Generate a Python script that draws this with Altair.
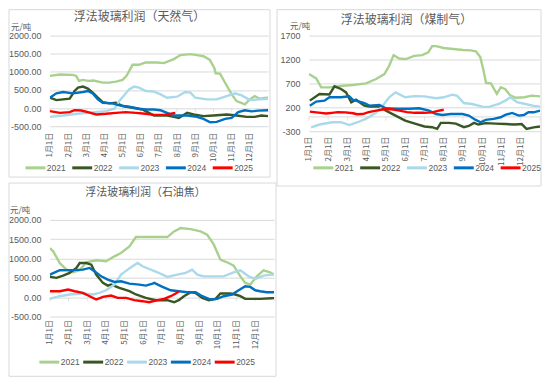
import altair as alt
import pandas as pd

YEARS = ["2021", "2022", "2023", "2024", "2025"]
COLORS = ["#A9D18E", "#385723", "#A9D9EA", "#0070C0", "#FF0000"]
MONTH_TICKS = list(range(12))
AXIS_TICKS = list(range(13))

# ---- 浮法玻璃利润（天然气）: (month offset from Jan 1, value) ----
ng_2021 = [(0, 889), (0.55, 926), (1.27, 917), (1.45, 889), (1.6, 750), (1.82, 778), (2.1, 750),
           (2.4, 760), (2.91, 704), (3.27, 704), (3.64, 731), (4.0, 778), (4.22, 889), (4.55, 1194),
           (4.91, 1194), (5.27, 1259), (5.91, 1259), (6.27, 1240), (6.82, 1352), (7.18, 1463),
           (7.73, 1490), (8.09, 1463), (8.45, 1430), (8.8, 1330), (9.05, 1100), (9.12, 960),
           (9.36, 950), (9.64, 700), (10.0, 380), (10.27, 194), (10.73, 102), (11.0, 240),
           (11.27, 333), (11.55, 260), (11.91, 287), (12, 280)]
ng_2022 = [(0, 287), (0.36, 222), (1.09, 259), (1.36, 472), (1.55, 565), (1.82, 593), (2.09, 537),
           (2.36, 426), (2.64, 287), (2.91, 167), (3.27, 130), (3.64, 148), (4.0, 56), (4.55, 9),
           (5.09, -37), (5.45, -130), (5.73, -204), (6.45, -204), (6.82, -240), (7.09, -270),
           (7.55, -130), (7.91, -176), (8.45, -222), (9.0, -204), (9.73, -176), (10.27, -204),
           (10.82, -240), (11.27, -240), (11.64, -204), (12, -222)]
ng_2023 = [(0, -240), (0.73, -204), (1.64, -148), (2.45, -111), (3.09, -83), (3.55, -18), (3.82, 194),
           (4.09, 352), (4.36, 518), (4.64, 593), (4.91, 565), (5.27, 472), (5.73, 454), (6.09, 380),
           (6.45, 287), (7.0, 315), (7.45, 444), (7.73, 426), (8.0, 287), (8.64, 241), (9.18, 241),
           (9.64, 315), (10.18, 407), (10.55, 352), (11.0, 222), (11.55, 241), (12, 260)]
ng_2024 = [(0, 287), (0.36, 407), (0.73, 444), (1.27, 407), (1.82, 444), (2.09, 472), (2.36, 407),
           (2.64, 241), (2.91, 148), (3.45, 130), (3.82, 74), (4.36, 37), (4.91, -18), (5.27, -37),
           (5.73, -40), (6.09, -60), (6.45, -130), (6.82, -204), (7.55, -204), (8.09, -240),
           (8.45, -296), (8.82, -389), (9.18, -380), (9.64, -296), (10.0, -268), (10.36, -111),
           (10.73, -60), (11.09, -90), (11.45, -70), (12, -60)]
ng_2025 = [(0, -83), (0.55, -130), (1.09, -111), (1.36, -55), (1.73, -65), (2.09, -111), (2.55, -176),
           (3.09, -157), (3.64, -130), (4.18, -111), (4.73, -130), (5.27, -157), (5.73, -185),
           (6.27, -185), (6.9, -130)]

# ---- 浮法玻璃利润（煤制气） ----
cg_2021 = [(0, 896), (0.38, 804), (0.64, 617), (1.1, 617), (1.76, 652), (2.28, 667), (2.97, 700),
           (3.49, 792), (3.92, 896), (4.17, 1069), (4.4, 1291), (4.69, 1221), (5.04, 1208),
           (5.47, 1277), (5.88, 1291), (6.2, 1350), (6.4, 1480), (6.6, 1480), (7.0, 1440),
           (7.5, 1420), (8.0, 1400), (8.4, 1390), (8.67, 1370), (8.9, 1250), (9.05, 1000),
           (9.2, 710), (9.45, 700), (9.76, 480), (9.97, 620), (10.2, 580), (10.45, 450),
           (10.74, 400), (11.2, 410), (11.57, 445), (12, 430)]
cg_2022 = [(0.05, 340), (0.55, 480), (1.07, 470), (1.33, 640), (1.67, 583), (1.93, 512), (2.2, 305),
           (2.45, 360), (2.88, 235), (3.14, 215), (3.66, 220), (4.0, 130), (4.5, 27), (5.0, -78),
           (5.55, -147), (6.0, -200), (6.4, -216), (6.66, -250), (6.85, -125), (7.28, -125),
           (7.63, -140), (8.05, -216), (8.3, -190), (8.57, -125), (8.8, -160), (9.17, -130),
           (9.7, -140), (10.2, -150), (10.7, -160), (11.05, -150), (11.3, -250), (11.67, -220),
           (12, -200)]
cg_2023 = [(0.12, -217), (0.55, -160), (1.22, -112), (1.67, -112), (2.1, -170), (2.53, -112),
           (2.95, -42), (3.48, 83), (3.8, 215), (4.17, 410), (4.5, 512), (5.0, 410), (5.47, 435),
           (5.99, 430), (6.6, 390), (7.0, 410), (7.45, 465), (7.7, 440), (8.05, 290), (8.48, 270),
           (9.0, 215), (9.35, 210), (9.86, 270), (10.2, 340), (10.47, 410), (10.8, 310),
           (11.24, 270), (11.67, 230), (12, 215)]
cg_2024 = [(0.05, 235), (0.38, 320), (0.81, 340), (1.07, 410), (1.67, 410), (2.1, 430), (2.27, 360),
           (2.62, 320), (2.88, 290), (3.14, 235), (3.66, 250), (4.0, 180), (4.5, 170), (5.2, 170),
           (5.73, 180), (6.24, 130), (6.6, 60), (6.93, 40), (7.37, 60), (7.97, 60), (8.3, 27),
           (8.66, -63), (8.92, -112), (9.18, -63), (9.6, -42), (9.95, -8), (10.2, 40), (10.55, 83),
           (10.9, 27), (11.16, 40), (11.4, 96), (11.67, 96), (12, 130)]
cg_2025 = [(0.05, 110), (0.5, 90), (0.9, 70), (1.2, 85), (1.5, 100), (1.9, 95), (2.3, 75), (2.5, 55),
           (2.8, 60), (3.1, 100), (3.5, 130), (3.9, 160), (4.3, 160), (4.7, 130), (5.1, 100),
           (5.5, 85), (6.0, 85), (6.4, 95), (6.7, 125), (7.0, 150)]

# ---- 浮法玻璃利润（石油焦） ----
pc_2021 = [(0, 1272), (0.18, 1187), (0.53, 885), (0.89, 714), (1.24, 645), (1.6, 697), (1.95, 903),
           (2.48, 955), (3.01, 929), (3.46, 1058), (3.81, 1144), (4.26, 1316), (4.61, 1556),
           (5.5, 1556), (6.29, 1556), (6.65, 1703), (7.0, 1788), (7.54, 1763), (8.07, 1703),
           (8.42, 1617), (8.78, 1359), (9.13, 972), (9.57, 885), (9.84, 817), (10.2, 540),
           (10.46, 370), (10.73, 327), (11.08, 540), (11.44, 697), (11.79, 645), (12, 585)]
pc_2022 = [(0, 530), (0.35, 500), (0.71, 560), (1.06, 630), (1.42, 757), (1.6, 885), (1.95, 885),
           (2.22, 840), (2.48, 585), (2.84, 370), (3.1, 300), (3.28, 327), (3.72, 240), (4.26, 155),
           (4.61, 70), (5.14, -17), (5.67, -77), (6.29, -77), (6.65, -130), (6.9, -77), (7.18, 26),
           (7.54, 130), (7.8, 110), (8.16, -17), (8.51, -77), (8.87, -43), (9.13, 95), (9.66, 95),
           (9.93, 70), (10.2, 26), (10.46, -43), (11.26, -43), (11.88, -26), (12, -25)]
pc_2023 = [(0, -40), (0.53, 26), (1.06, 70), (1.77, 95), (2.3, 70), (2.66, 112), (3.01, 180),
           (3.46, 327), (3.81, 585), (4.17, 714), (4.43, 800), (4.7, 885), (4.96, 800), (5.32, 730),
           (5.76, 645), (6.29, 525), (6.82, 585), (7.27, 630), (7.62, 714), (7.89, 585), (8.24, 540),
           (9.3, 540), (9.84, 645), (10.2, 697), (10.64, 540), (11.0, 473), (11.44, 560),
           (11.88, 585), (12, 585)]
pc_2024 = [(0, 585), (0.53, 697), (1.24, 700), (1.77, 714), (2.13, 757), (2.39, 670), (2.75, 540),
           (3.1, 455), (3.46, 395), (3.81, 413), (4.26, 352), (4.79, 327), (5.14, 300), (5.5, 352),
           (5.59, 370), (6.03, 266), (6.47, 180), (6.91, 155), (7.36, 130), (7.8, 130), (8.16, 26),
           (8.6, -60), (8.95, -43), (9.31, 26), (9.75, 70), (10.11, 180), (10.46, 284), (10.73, 266),
           (11.0, 180), (11.26, 155), (11.61, 130), (12, 130)]
pc_2025 = [(0, 155), (0.53, 155), (0.98, 198), (1.33, 155), (1.77, 112), (2.13, 26), (2.48, -60),
           (2.84, 9), (3.28, 43), (3.63, -17), (4.08, -17), (4.52, -77), (4.96, -103), (5.32, -130),
           (5.76, -77), (6.12, -43), (6.47, 26), (6.74, 95), (6.91, 155)]

TITLES = ["浮法玻璃利润（天然气）", "浮法玻璃利润（煤制气）", "浮法玻璃利润（石油焦）"]
UNIT = "元/吨"
ZERO = [0]

GRAY_TXT = "#595959"
GRID = "#D9D9D9"
ONE = pd.DataFrame({"k": [0]})


def frame(series):
    rows = []
    for year, pts in zip(YEARS, series):
        for m, v in pts:
            rows.append({"m": m, "v": v, "year": year})
    return pd.DataFrame(rows)


def panel(df, w, h, ydom, yvals, decimals, title, tsize, txy, uxy, lxy, lpad, box, xpad, zero_rule):
    fmt = ".2f" if decimals else "d"
    yaxis = alt.Axis(values=yvals, grid=True, gridColor=GRID, gridWidth=1, domain=False, ticks=False,
                     labelExpr="(datum.value < 0 ? '-' : '') + format(abs(datum.value), '%s')" % fmt,
                     labelFont="Liberation Sans", labelFontSize=9, labelColor=GRAY_TXT, labelPadding=9,
                     title=None, labelOverlap=False, labelFlush=False)
    yscale = alt.Scale(domain=ydom, nice=False, zero=False)
    xscale = alt.Scale(domain=[0, 12], nice=False, zero=False)
    xaxis = alt.Axis(values=MONTH_TICKS, labelExpr="(datum.value + 1) + '月1日'", labelAngle=-90,
                     grid=False, domain=False, ticks=False, labelFont="Noto Sans CJK SC", labelFontSize=8,
                     labelColor=GRAY_TXT, labelPadding=xpad, title=None, labelOverlap=False, labelFlush=False)
    legend = alt.Legend(title=None, orient="none", legendX=lxy[0], legendY=lxy[1], direction="horizontal",
                        symbolType="stroke", symbolSize=400, symbolStrokeWidth=3, labelFont="Liberation Sans",
                        labelFontSize=8.5, labelColor=GRAY_TXT, labelOffset=0, columnPadding=lpad, padding=0)
    lines = alt.Chart(df).mark_line(strokeWidth=2.4, clip=True).encode(
        x=alt.X("m:Q", scale=xscale, axis=xaxis),
        y=alt.Y("v:Q", scale=yscale, axis=yaxis),
        color=alt.Color("year:N", scale=alt.Scale(domain=YEARS, range=COLORS), legend=legend),
        order=alt.Order("m:Q"),
    )
    border = alt.Chart(ONE).mark_rect(fill="white", fillOpacity=0, stroke=GRID, strokeWidth=1).encode(
        x=alt.value(box[0]), x2=alt.value(box[1]), y=alt.value(box[2]), y2=alt.value(box[3]))
    ttl = alt.Chart(ONE).mark_text(text=title, font="Noto Sans CJK SC", fontSize=tsize, color=GRAY_TXT,
                                   align="center", baseline="middle").encode(
        x=alt.value(txy[0]), y=alt.value(txy[1]))
    unit = alt.Chart(ONE).mark_text(text=UNIT, font="Noto Sans CJK SC", fontSize=8.5, color=GRAY_TXT,
                                    align="left", baseline="middle").encode(
        x=alt.value(uxy[0]), y=alt.value(uxy[1]))
    ticks = alt.Chart(pd.DataFrame({"m": AXIS_TICKS, "v": [0] * len(AXIS_TICKS)})).mark_tick(
        color=GRID, size=4, thickness=1, orient="vertical", yOffset=2).encode(
        x=alt.X("m:Q", scale=xscale, axis=xaxis), y=alt.Y("v:Q", scale=yscale, axis=yaxis))
    layers = [border]
    if zero_rule:
        layers.append(alt.Chart(pd.DataFrame({"v": ZERO})).mark_rule(color=GRID, strokeWidth=1).encode(
            y=alt.Y("v:Q", scale=yscale, axis=yaxis)))
    layers += [ticks, lines, ttl, unit]
    return alt.layer(*layers).properties(width=w, height=h)


p1 = panel(frame([ng_2021, ng_2022, ng_2023, ng_2024, ng_2025]), 219, 91, [-500, 2000],
           [-500, 0, 500, 1000, 1500, 2000], True, TITLES[0], 12, (90, -19), (-39, -9),
           (-26, 121), 0, (-41, 221, -26, 142), 6, False)
p2 = panel(frame([cg_2021, cg_2022, cg_2023, cg_2024, cg_2025]), 232, 96, [-300, 1700],
           [-300, 200, 700, 1200, 1700], False, TITLES[1], 12, (98, -16), (-19, -10),
           (3, 121), 0, (-32, 233, -26, 151), 5, True)
p3 = panel(frame([pc_2021, pc_2022, pc_2023, pc_2024, pc_2025]), 225, 97, [-500, 2000],
           [-500, 0, 500, 1000, 1500, 2000], True, TITLES[2], 11, (96, -27), (-40, -10),
           (-12, 131), -3, (-41, 227, -37, 157), 3, False)

chart = alt.concat(p1, p2, p3, columns=2, spacing={"row": 89, "column": 35}, bounds="flush").properties(
    padding=0
).resolve_scale(color="independent").resolve_legend(color="independent").configure_view(strokeWidth=0)

chart.save("out.html", embed_options={"renderer": "svg", "actions": False})
